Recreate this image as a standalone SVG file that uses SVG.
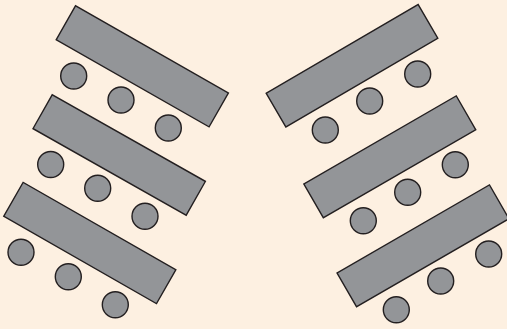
<svg xmlns="http://www.w3.org/2000/svg" width="507" height="329" viewBox="0 0 507 329">
<style>
.t{fill:#939598;stroke:#231f20;stroke-width:1.4}
.c{fill:#939598;stroke:#231f20;stroke-width:1.4}
</style>
<defs>
<rect id="tb" class="t" x="-88" y="-19.5" width="176" height="39"/>
</defs>
<rect width="507" height="329" fill="#fdf0e1"/>
<g id="left-row-1">
<use href="#tb" transform="translate(142.3,66.3) rotate(29.7)"/>
<circle class="c" cx="73.7" cy="76" r="13"/>
<circle class="c" cx="121" cy="100" r="13"/>
<circle class="c" cx="168.3" cy="128" r="13"/>
</g>
<g id="left-row-2">
<use href="#tb" transform="translate(119.2,155) rotate(29.5)"/>
<circle class="c" cx="50.7" cy="164.5" r="13"/>
<circle class="c" cx="97.7" cy="188.3" r="13"/>
<circle class="c" cx="145" cy="216.3" r="13"/>
</g>
<g id="left-row-3">
<use href="#tb" transform="translate(89.8,243) rotate(29.8)"/>
<circle class="c" cx="21" cy="252.3" r="13"/>
<circle class="c" cx="68.3" cy="276.7" r="13"/>
<circle class="c" cx="115.3" cy="304.7" r="13"/>
</g>
<g id="right-row-1">
<use href="#tb" transform="translate(352,65.8) rotate(-30.3)"/>
<circle class="c" cx="417.7" cy="74" r="13"/>
<circle class="c" cx="369.7" cy="101" r="13"/>
<circle class="c" cx="325.3" cy="130" r="13"/>
</g>
<g id="right-row-2">
<use href="#tb" transform="translate(389.8,156.8) rotate(-30)"/>
<circle class="c" cx="455.3" cy="164.8" r="13"/>
<circle class="c" cx="407.7" cy="192.3" r="13"/>
<circle class="c" cx="363.3" cy="220.7" r="13"/>
</g>
<g id="right-row-3">
<use href="#tb" transform="translate(423,245.8) rotate(-30)"/>
<circle class="c" cx="488.7" cy="254" r="13"/>
<circle class="c" cx="440.7" cy="281" r="13"/>
<circle class="c" cx="396.3" cy="309.7" r="13"/>
</g>
<g id="connectors"></g>
</svg>
